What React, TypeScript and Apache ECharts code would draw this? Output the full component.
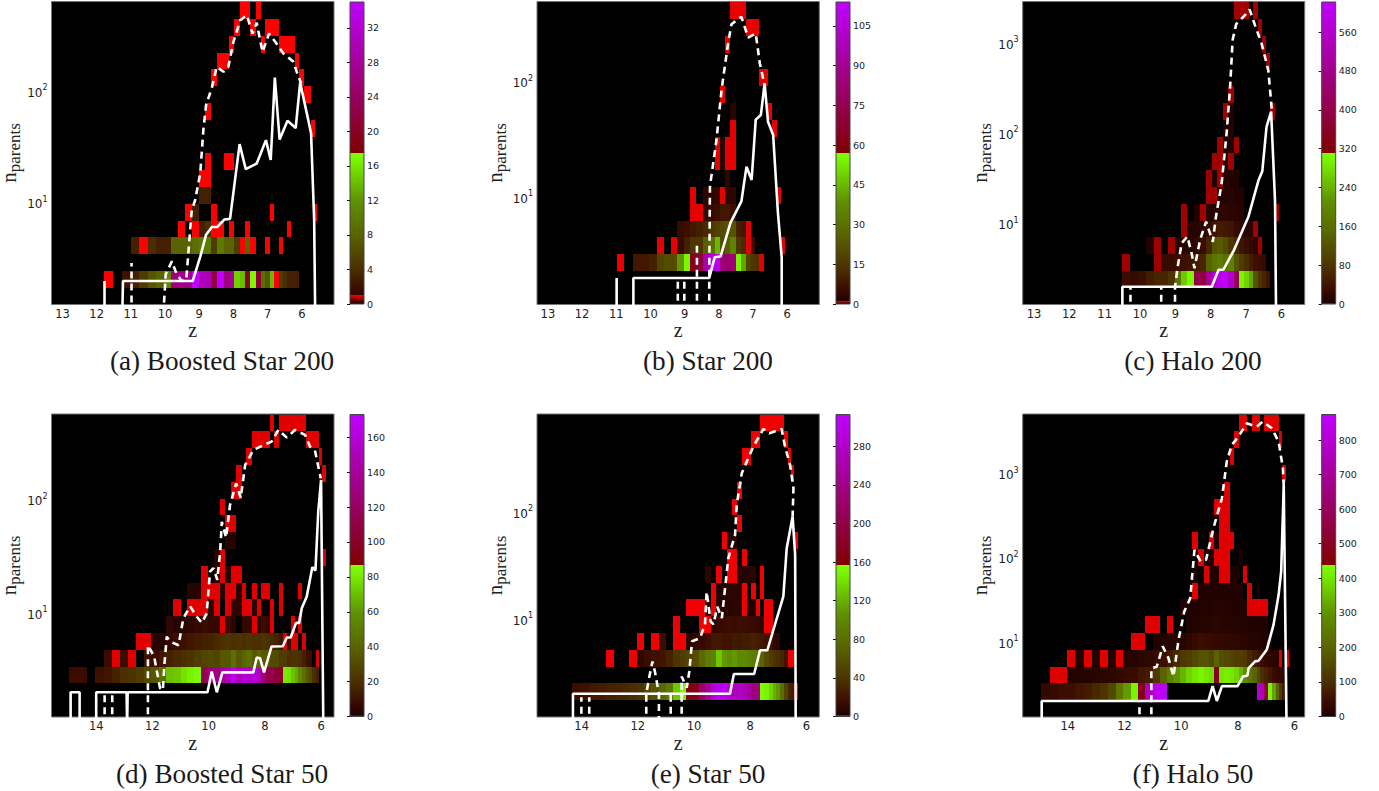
import React, { useEffect, useRef } from "react";
import * as echarts from "echarts";

// Shared redshift bin edges (index k = column of every heat row)
const zEdges = [14.96,14.64,14.33,14.03,13.73,13.43,13.14,12.86,12.58,12.31,12.04,11.78,11.52,11.26,10.99,10.76,10.51,10.27,10.03,9.82,9.61,9.41,9.21,9.02,8.83,8.66,8.47,8.29,8.12,7.97,7.81,7.66,7.51,7.34,7.2,7.07,6.93,6.81,6.67,6.55,6.43,6.31,6.19,6.07,5.95,5.84,5.73,5.63,5.55];

type Row = [number, number, number[]];

const heatA: Row[] = [
  [1,11,[1,0,2,3,5,7,8,11,26,27,27,35,30,30,22,35,26,28,15,14,20,17,21,9,7,14,1,5,4,3,3,3]],
  [3,14,[3,1,4,3,3,8,8,8,9,10,10,5,10,8,8,5,1,8,1,0,0,1,0,0,1]],
  [4,20,[1,0,1,3,4,1,1,0,1,0,0,1]],[4,40,[1]],
  [5,21,[1,3,0,0,1]],[5,36,[1]],[5,47,[1]],
  [6,23,[3,3]],[7,23,[1,1]],[8,24,[1,0,0,1,1]],[10,46,[1]],[11,24,[1]],[12,44,[1,1]],
  [13,25,[1]],[13,43,[1]],[14,26,[1,1]],[14,42,[1]],[15,28,[1]],[15,34,[1]],[15,38,[1,1,1,1]],
  [16,29,[1]],[16,32,[1]],[16,35,[1,1,1]],[17,30,[1,1]],[17,33,[1]],
];
const heatB: Row[] = [
  [2,14,[1]],
  [2,16,[8,8,10,18,20,20,40,55,62,70,95,108,110,85,80,85,55,42,18,15,14,1]],
  [3,19,[1,0,1,5,10,15,15,25,30,45,20,25,35,15,12,1,6]],[3,42,[1]],
  [4,22,[5,6,8,10,12,16,18,20,22,22,10,8,1]],
  [5,24,[1,1,4,5,6,8,8,6]],
  [6,24,[1,0,3,3,4,1,3,3]],[6,41,[1]],
  [7,30,[3]],[8,28,[1,2,1,1]],[9,28,[1,2,1,1]],[10,31,[1]],[10,40,[1]],[11,31,[2]],[11,39,[1]],
  [12,29,[1]],[13,37,[1,1]],[15,30,[1]],[16,34,[1,1,1]],[17,31,[1,1,1]],
];
const heatC: Row[] = [
  [1,16,[30,25,30,50,60,60,80,170,260,300,400,390,500,570,600,620,560,430,300,270,230,120,80,60,40]],
  [2,16,[1,0,0,0,1,25,25,30,35,40,50,60,140,170,180,160,190,120,90,70,50,35,30,25]],
  [3,19,[6,1,0,1,8,10,15,20,30,60,120,130,110,80,60,40,30,20,15,1]],
  [4,24,[1,8,10,15,25,40,50,45,40,25,20,10,12,1]],
  [5,24,[1,0,6,1,8,10,15,18,15,12,8]],[5,42,[1]],
  [6,28,[1,1,5,8,10,6,4]],[7,28,[1,3,1,5,6,5]],[8,29,[1,1,4,1]],[9,30,[1,3,4,1]],[10,31,[2,5]],
  [11,31,[1,3]],[11,41,[1]],[12,32,[1]],[14,40,[1]],[15,39,[1]],[16,38,[1]],[17,33,[1,1,1,0,1]],
];
const heatD: Row[] = [
  [2,0,[8,8,0,10,12,15,20,22,25,30,35,45,70,72,78,82,85,115,125,130,140,150,170,150,160,155,160,150,130,110,115,105,100,80,78,70,65,55,45,35,30,20,15]],
  [3,4,[8,1,8,1,0,10,8,12,15,18,20,22,25,28,30,28,35,35,45,35,40,45,35,40,35,35,30,30,25,25,20,22,22,20,15,10,8,0,1]],
  [4,8,[1,1,3,3,6,8,10,12,14,15,16,18,20,22,20,22,20,22,20,20,22,20,18,16,12,1,8,1,1,0,1]],
  [5,12,[5,3,4,5,6,8,6,6,1,8,4,0,6,6,1,6,8,6,1,0,0,0,0,1,0,1]],
  [6,13,[1,0,1,1,1,4,1,0,1,5,4,1,1,3,1,0,0,1,0,1]],
  [7,15,[3,3,1,1,1,3,1,1,3,1,0,1,0,1,1,0,0,1,0,0,0,0,1]],
  [8,17,[1,0,3,1,3,1,1]],[9,19,[3,1]],[9,44,[1]],[10,21,[3,3]],[11,21,[1,1]],[12,20,[1]],
  [13,22,[1,1]],[14,23,[1]],[14,44,[1]],[15,25,[1]],[15,43,[1]],
  [16,26,[1,1,1,1,0,1]],[16,39,[1,1,1,1]],[17,30,[1]],[17,32,[1,1,1,1,1,1,1]],
];
const heatE: Row[] = [
  [1,2,[15,18,22,25,28,30,32,35,40,50,60,75,90,130,150,165,170,220,250,290,300,305,290,270,280,270,255,230,240,155,150,135,120,110,80,50,30,25,1]],
  [3,6,[1]],
  [3,9,[1,10,15,18,20,28,40,45,50,55,75,90,95,130,110,105,110,100,100,95,90,85,70,55,45,40,35,30,20,1,1]],
  [4,10,[1,0,1,15]],[4,15,[1,1,8,10,12,16,22,22,20,20,24,22,25,25,28,25,22,18,16,10,8]],
  [5,15,[1]],[5,19,[1,1,8,12,14,16,14,16,15,14,14,12,8,1,1]],
  [6,17,[1,1,1,5,1,5,5,6,8,8,1,3,3,1,0,1,1]],
  [7,21,[1,3,4,8,8,4,1,0,1,0,1]],
  [8,20,[8,0,1,0,1,1,8,4,5,6,0,1]],
  [9,24,[1,1,0,1]],[10,23,[1,6,4]],[10,40,[1]],[11,26,[1]],[12,25,[1]],[13,26,[1]],[14,39,[1]],
  [15,27,[1,1]],[15,38,[1]],[16,29,[1,1]],[16,37,[1]],[17,31,[1,1,1,1,1,1]],
];
const heatF: Row[] = [
  [1,0,[30,35,45,45,60,70,90,110,150,240,310,420,480,760,840,860]],[1,33,[800,750,550,420,320,200,120,60]],
  [2,1,[1,1,10,12,15,18,20,22,30,35,40,60,70,120,200,260,300,340,380,400,420,400,390,500,400,410,400,380,340,280,240,200,150,100,80,60,40,30,30,25]],
  [3,3,[1,8,1,6,1,8,1,12,15,20,25,35,50,70,90,120,130,150,170,170,150,200,160,150,140,130,130,120,90,70,55,40,30,25,20,15]],[3,39,[1,0,1]],
  [4,11,[1,1,0,8,10,12,14,18,25,35,45,40,35,30,30,28,25,25,20,20,18,14,12,10,8,5]],
  [5,13,[1,1,0,1,0,0,6,10,12,14,18,22,18,16,14,14,12,10,10,8,6,5,4]],
  [6,18,[3,5,7,10,10,12,14,12,12,10,8,8,6,1,1,1,1,1]],
  [7,20,[1,5,7,8,8,8,7,6,5,3,0,1,0,2]],
  [8,20,[2,0,1,5,5,1,1,3,2,0,1]],
  [9,21,[1,3,3,1,1,1,0,0,2]],
  [10,20,[1,0,0,1,3,1,1,1]],[11,25,[1,1]],[12,24,[1,1,1]],[13,26,[1]],[14,40,[1]],[15,27,[1]],
  [16,28,[1]],[16,39,[1]],[17,29,[1,1]],[17,32,[1,1]],[17,35,[1,1,1,1]],
];

type P = [number | null, number | null];
const gap: P = [null, null];

const solidA: P[] = [[11.77,1],[11.77,2],gap,[11.25,1],[11.23,2],[9.19,2],[8.97,3.3],[8.8,5.2],[8.63,6.1],[8.47,6.1],[8.27,7.1],[8.1,7.2],[7.82,33.7],[7.64,20.1],[7.32,22.6],[7.05,36.6],[6.91,24.3],[6.79,133],[6.65,37],[6.42,54.6],[6.18,47],[6.05,120],[5.81,55],[5.73,42],[5.64,7],[5.61,1]];
const dashA: P[] = [[10.98,1],[10.98,2.9],gap,[10.05,1],[9.98,2.3],[9.8,3],[9.66,2.3],[9.51,2],[9.38,2.05],[9.22,8.6],[9.12,10.6],[8.97,18.5],[8.88,45],[8.8,75.6],[8.63,108],[8.49,166],[8.29,150],[8.15,166],[8,279],[7.8,435],[7.61,483],[7.44,330],[7.32,412],[7.15,226],[6.96,330],[6.78,279],[6.54,219],[6.25,185],[6.15,150],[6.02,118]];
const solidB: P[] = [[10.99,1],[10.99,2],gap,[10.5,1],[10.5,2],[8.28,2],[8.12,3.03],[7.95,3.07],[7.66,6],[7.34,9.2],[7.19,18.4],[7.04,14.1],[6.92,47],[6.77,51.5],[6.66,97],[6.56,45],[6.41,34.6],[6.27,7.3],[6.16,3],[6.16,1]];
const dashB: P[] = [[9.2,1],[9.2,2],gap,[9.01,1],[9.01,1.87],gap,[8.64,1],[8.64,4.1],gap,[8.28,1],[8.28,2],[8.26,12.4],[8.07,31],[7.92,85],[7.73,214],[7.63,315],[7.34,365],[7.14,241],[6.92,262],[6.8,144],[6.66,93]];
const solidC: P[] = [[10.5,1],[10.5,2],[7.97,2],[7.78,3.07],[7.64,3.1],[7.34,5.1],[6.93,12],[6.65,30],[6.54,38],[6.42,118],[6.29,174],[6.18,18],[6.15,1]];
const dashC: P[] = [[10.27,1],[10.27,2],gap,[9.4,1],[9.4,2],gap,[9.01,1],[9.01,2],[8.92,3.6],[8.82,6.1],[8.66,7.2],[8.54,4.7],[8.46,3.2],[8.3,6.6],[8.13,10.5],[7.94,6.3],[7.85,12],[7.69,28],[7.55,100],[7.45,329],[7.38,1080],[7.28,1620],[7.03,2040],[6.9,2360],[6.75,1590],[6.56,990],[6.37,500],[6.27,181]];
const solidD: P[] = [[14.91,1],[14.91,2],[14.59,2],[14.59,1],gap,[14,1],[14,2],[12.92,2],[12.9,1],[12.88,2],[10.04,2],[9.89,3.05],[9.71,2],[9.51,3],[8.41,3],[8.29,4.06],[8.17,4],[8.03,3],[7.76,5.08],[7.36,5.1],[7.22,6.1],[7.08,6.1],[6.89,8.2],[6.78,8.2],[6.69,11],[6.51,14],[6.31,25.5],[6.2,23.8],[6.1,79],[6,150],[5.92,1]];
const dashD: P[] = [[13.7,1],[13.7,2],gap,[13.43,1],[13.43,2],gap,[12.16,1],[12.16,5.2],[11.94,4.15],[11.73,2.18],[11.63,2.08],[11.57,3.6],[11.49,6.2],[11.37,5.6],[11.07,5.2],[10.9,9],[10.66,11.5],[10.42,9.3],[10.24,8.2],[10.07,10],[9.95,23.3],[9.83,25],[9.69,19.7],[9.59,35],[9.53,64],[9.38,46.5],[9.24,90],[9.02,140],[8.86,104],[8.7,204],[8.41,276],[8.05,305],[7.76,327],[7.52,415],[7.22,355],[6.93,415],[6.57,375],[6.39,295],[6.22,276],[6.01,155]];
const solidE: P[] = [[14.31,1],[14.31,2],[8.72,2],[8.58,3.06],[7.86,3.06],[7.65,5.1],[7.39,5.1],[6.82,16.3],[6.7,46],[6.49,91],[6.4,40],[6.38,1]];
const dashE: P[] = [[14.01,1],[14.01,1.85],gap,[13.73,1],[13.73,1.85],gap,[11.7,1],[11.7,2],[11.6,2.8],[11.48,4],[11.39,3.2],[11.25,2],[11.25,1],gap,[10.83,1],[10.83,2],gap,[10.44,1],[10.44,2.9],[10.26,2.27],[10.17,3.2],[10.07,6.2],[9.79,6.6],[9.61,8.9],[9.55,18],[9.41,9.5],[9.31,8.9],[9.17,13],[9.01,10.2],[8.78,37],[8.54,61],[8.48,117],[8.3,231],[8.12,298],[7.89,411],[7.53,601],[7.32,547],[6.88,601],[6.76,411],[6.58,277],[6.46,168],[6.49,91]];
const solidF: P[] = [[14.92,1],[14.92,2],[9.04,2],[8.89,3],[8.74,2],[8.56,3],[8.01,3],[7.82,3.9],[7.66,4],[7.62,4.9],[7.39,5.9],[7.27,6],[6.98,8.1],[6.74,16],[6.56,36.4],[6.47,69],[6.38,735],[6.28,1]];
const dashF: P[] = [[11.47,1],[11.47,2],gap,[11.05,1],[11.05,4.9],[10.86,5.1],[10.65,8.9],[10.45,6.5],[10.27,3.9],[10.09,10.7],[9.89,23],[9.68,33],[9.53,124],[9.31,90],[9.12,95],[8.86,225],[8.56,510],[8.39,1390],[8.21,2190],[7.98,2750],[7.68,3950],[7.33,3600],[7.12,4140],[6.8,3450],[6.56,2390],[6.41,1160],[6.38,735]];

const ticks200 = [13,12,11,10,9,8,7,6];
const ticks50 = [14,12,10,8,6];
const cbTicksA = [0,4,8,12,16,20,24,28,32];
const cbTicksB = [0,15,30,45,60,75,90,105];
const cbTicksC = [0,80,160,240,320,400,480,560];
const cbTicksD = [0,20,40,60,80,100,120,140,160];
const cbTicksE = [0,40,80,120,160,200,240,280];
const cbTicksF = [0,100,200,300,400,500,600,700,800];

const SERIF = "'Liberation Serif', serif";
const SANS = "'DejaVu Sans', sans-serif";

const panels = [
  { cap: "(a) Boosted Star 200", heat: heatA, solid: solidA, dash: dashA, ticks: ticks200, cbTicks: cbTicksA, vmax: 35, unit: "#ff0000", low: 0.029, zr: [5.06,13.32], yr: [1.23,640], left: 51.5, w: 282.5, top: 1.5, cbLeft: 350 },
  { cap: "(b) Star 200", heat: heatB, solid: solidB, dash: dashB, ticks: ticks200, cbTicks: cbTicksB, vmax: 114, unit: "#e60000", low: 0.009, zr: [5.06,13.32], yr: [1.18,495], left: 537, w: 282.3, top: 1.5, cbLeft: 836 },
  { cap: "(c) Halo 200", heat: heatC, solid: solidC, dash: dashC, ticks: ticks200, cbTicks: cbTicksC, vmax: 622, unit: "#a00000", low: 0.002, zr: [5.34,13.32], yr: [1.27,2890], left: 1022.7, w: 282, top: 1.5, cbLeft: 1321.7 },
  { cap: "(d) Boosted Star 50", heat: heatD, solid: solidD, dash: dashD, ticks: ticks50, cbTicks: cbTicksD, vmax: 173, unit: "#e00000", low: 0.006, zr: [5.54,15.59], yr: [1.21,574], left: 51.5, w: 282.5, top: 414, cbLeft: 350 },
  { cap: "(e) Star 50", heat: heatE, solid: solidE, dash: dashE, ticks: ticks50, cbTicks: cbTicksE, vmax: 313, unit: "#f00000", low: 0.004, zr: [5.54,15.59], yr: [1.21,830], left: 537, w: 282.3, top: 414, cbLeft: 836 },
  { cap: "(f) Halo 50", heat: heatF, solid: solidF, dash: dashF, ticks: ticks50, cbTicks: cbTicksF, vmax: 874, unit: "#e00000", low: 0.001, zr: [5.64,15.59], yr: [1.29,5100], left: 1022.7, w: 282, top: 414, cbLeft: 1321.7 },
];

const HEIGHT = 303;
const ROWS = 18.04;

const ramp: [number, number[]][] = [
  [0,[28,0,0]],[0.05,[60,12,0]],[0.11,[74,44,0]],[0.23,[90,100,0]],[0.34,[95,144,0]],[0.47,[120,240,0]],[0.5,[127,255,0]],
];
function rampColor(t: number) {
  if (t >= 0.5) {
    const u = (t - 0.5) / 0.5;
    return `rgb(${Math.round(128 + 63 * u)},0,${Math.round(255 * u)})`;
  }
  for (let i = 1; i < ramp.length; i++) {
    if (t <= ramp[i][0]) {
      const [a, ca] = ramp[i - 1];
      const [b, cb] = ramp[i];
      const u = (t - a) / (b - a);
      return `rgb(${ca.map((c, j) => Math.round(c + (cb[j] - c) * u)).join(",")})`;
    }
  }
  return "#7fff00";
}

function buildOption() {
  const grid: any[] = [], xAxis: any[] = [], yAxis: any[] = [], series: any[] = [], title: any[] = [];
  panels.forEach((p, i) => {
    const g = i * 2, cb = i * 2 + 1;
    grid.push({ left: p.left, top: p.top, width: p.w, height: HEIGHT, show: true, backgroundColor: "#000", borderColor: "#777", borderWidth: 1, outerBoundsMode: "none", containLabel: false });
    grid.push({ left: p.cbLeft, top: p.top + 0.5, width: 14, height: HEIGHT - 1, show: false, outerBoundsMode: "none", containLabel: false });
    xAxis.push({
      gridIndex: g, type: "value", inverse: true, min: p.zr[0], max: p.zr[1],
      splitLine: { show: false }, axisLine: { show: false },
      axisTick: { show: false, customValues: p.ticks },
      axisLabel: { customValues: p.ticks, margin: 3, fontSize: 11.5, color: "#222", fontFamily: SANS, hideOverlap: false },
      name: "z", nameLocation: "middle", nameGap: 12,
      nameTextStyle: { fontFamily: SERIF, fontSize: 20, color: "#222" },
    });
    xAxis.push({ gridIndex: cb, type: "value", min: 0, max: 1, show: false });
    yAxis.push({
      gridIndex: g, type: "log", logBase: 10, min: p.yr[0], max: p.yr[1],
      splitLine: { show: false }, axisLine: { show: false }, axisTick: { show: false }, minorTick: { show: false },
      axisLabel: {
        margin: 4, color: "#222", fontFamily: SANS, showMinLabel: false, showMaxLabel: false,
        formatter: (v: number) => {
          const l = Math.log10(v);
          if (Math.abs(l - Math.round(l)) > 1e-6) return "";
          return `{b|10}{s|${Math.round(l)}}`;
        },
        rich: {
          b: { fontSize: 12, fontFamily: SANS, color: "#222", verticalAlign: "bottom", lineHeight: 15 },
          s: { fontSize: 8, fontFamily: SANS, color: "#222", verticalAlign: "top", lineHeight: 15 },
        },
      },
      name: "{n|n}{s|parents}", nameLocation: "middle", nameGap: 25, nameRotate: 90,
      nameTextStyle: {
        rich: {
          n: { fontFamily: SERIF, fontSize: 21, color: "#222", verticalAlign: "top", height: 16, lineHeight: 22 },
          s: { fontFamily: SERIF, fontSize: 17, color: "#222", verticalAlign: "bottom", height: 17, lineHeight: 22 },
        },
      },
    });
    yAxis.push({
      gridIndex: cb, type: "value", position: "right", min: 0, max: p.vmax,
      splitLine: { show: false }, axisLine: { show: false },
      axisTick: { show: true, inside: true, length: 3, customValues: p.cbTicks, lineStyle: { color: "#111", width: 1 } },
      axisLabel: { customValues: p.cbTicks, margin: 3, fontSize: 9.5, color: "#222", fontFamily: SANS },
    });

    const dex = Math.log10(p.yr[1] / p.yr[0]) / ROWS;
    const edge = (r: number) => p.yr[0] * Math.pow(10, dex * r);
    const cells: number[][] = [];
    p.heat.forEach(([row, k0, counts]) => {
      counts.forEach((c, j) => {
        if (c > 0) cells.push([zEdges[k0 + j], zEdges[k0 + j + 1], edge(row), edge(row + 1), c]);
      });
    });
    series.push({
      type: "custom", xAxisIndex: g, yAxisIndex: g, z: 2, clip: true, silent: true,
      encode: { x: [0, 1], y: [2, 3] }, data: cells,
      renderItem: (_: any, api: any) => {
        const a = api.coord([api.value(0), api.value(3)]);
        const b = api.coord([api.value(1), api.value(2)]);
        const c = api.value(4);
        const x0 = Math.round(a[0]), x1 = Math.round(b[0]), y0 = Math.round(a[1]), y1 = Math.round(b[1]);
        return {
          type: "rect",
          shape: { x: x0, y: y0, width: x1 - x0, height: y1 - y0 },
          style: { fill: c <= 1 ? p.unit : rampColor(c / p.vmax) },
        };
      },
    });
    series.push({
      type: "line", xAxisIndex: g, yAxisIndex: g, z: 3, data: p.dash, showSymbol: false, silent: true,
      connectNulls: false, lineStyle: { color: "#fff", width: 2.6, type: [7, 5] },
    });
    series.push({
      type: "line", xAxisIndex: g, yAxisIndex: g, z: 4, data: p.solid, showSymbol: false, silent: true,
      connectNulls: false, lineStyle: { color: "#fff", width: 2.6 },
    });
    const stops: any[] = [
      { offset: 0, color: "#000" },
      { offset: p.low, color: p.unit },
      { offset: p.low + 0.0001, color: rampColor(p.low) },
    ];
    ramp.forEach(([t]) => { if (t > p.low && t < 0.5) stops.push({ offset: t, color: rampColor(t) }); });
    stops.push({ offset: 0.5, color: "#7fff00" }, { offset: 0.5001, color: "#800000" }, { offset: 1, color: "#bf00ff" });
    series.push({
      type: "custom", xAxisIndex: cb, yAxisIndex: cb, z: 2, silent: true,
      encode: { x: 0, y: 1 }, data: [[0, p.vmax]],
      renderItem: (_: any, api: any) => {
        const a = api.coord([0, api.value(1)]);
        const b = api.coord([1, 0]);
        return {
          type: "rect",
          shape: { x: a[0], y: a[1], width: b[0] - a[0], height: b[1] - a[1] },
          style: { fill: new echarts.graphic.LinearGradient(0, 1, 0, 0, stops), stroke: "#444", lineWidth: 1 },
        };
      },
    });
    title.push({
      text: p.cap, left: [217, 703, 1188][i % 3], top: i < 3 ? 342 : 755, textAlign: "center",
      textStyle: { fontFamily: SERIF, fontSize: 27.2, fontWeight: "normal", color: "#1a1a1a" },
    });
  });
  return { animation: false, backgroundColor: "#fff", title, grid, xAxis, yAxis, series, tooltip: { show: false } };
}

export default function App() {
  const ref = useRef<HTMLDivElement>(null);
  useEffect(() => {
    const chart = echarts.init(ref.current!, undefined, { renderer: "svg" });
    chart.setOption(buildOption() as any);
    return () => chart.dispose();
  }, []);
  return <div ref={ref} style={{ position: "absolute", left: 0, top: 0, width: 1379, height: 791 }} />;
}
